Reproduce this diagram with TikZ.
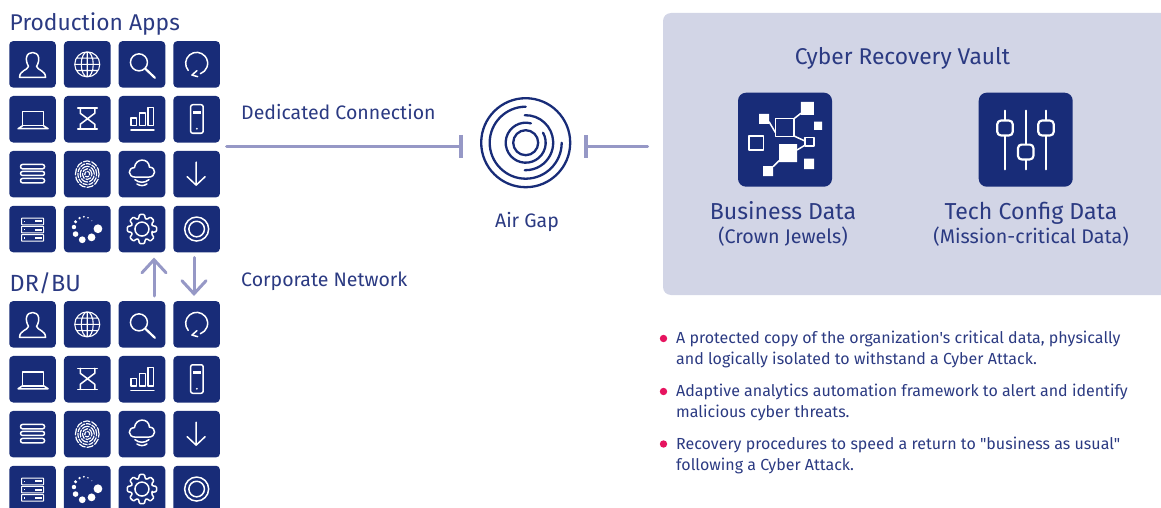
\documentclass[tikz,border=0pt]{standalone}
\usepackage{fontspec}
\setmainfont{Fira Sans}[Ligatures=TeXOff]
\usetikzlibrary{matrix, arrows.meta, calc}
\definecolor{navy}{HTML}{182C78}
\definecolor{ink}{HTML}{2B3A82}
\definecolor{linkblue}{HTML}{9698C6}
\definecolor{panelblue}{HTML}{D2D5E6}
\definecolor{dotpink}{HTML}{E6145F}
\tikzset{
  x=1pt, y=1pt,
  tile/.style={fill=navy, draw=none, rounded corners=4pt, minimum size=46.6pt, inner sep=0pt},
  bigtile/.style={fill=navy, draw=none, rounded corners=8pt, minimum size=94pt, inner sep=0pt},
  ico/.style={draw=white, line width=1.5pt, line join=round, line cap=round},
  icofill/.style={fill=white, draw=none},
  ring/.style={draw=navy, line width=2.3pt, line cap=round},
  link/.style={draw=linkblue, line width=3pt, line cap=round},
  linkend/.style={-{Bar[width=23pt,line width=4pt,line cap=butt]}},
  flow/.style={-{Straight Barb[length=13pt,width=24pt,line cap=round]}, draw=linkblue, line width=3pt, line cap=round},
  label/.style={text=ink, inner sep=0pt, anchor=base west, font=\fontsize{19.5}{21}\selectfont},
  mid/.style={text=ink, inner sep=0pt, anchor=base, font=\fontsize{23.1}{25}\selectfont},
  sub/.style={text=ink, inner sep=0pt, anchor=base, font=\fontsize{19.7}{22}\selectfont},
  note/.style={text=ink, inner sep=0pt, anchor=base west, align=left, font=\fontsize{16}{21}\selectfont},
  dot/.style={circle, fill=dotpink, inner sep=0pt, minimum size=7.4pt},
  pics/user/.style={code={
    \draw[ico] (-13,-13) -- (13,-13) .. controls (13,-6) and (5,-6) .. (4,-2)
      .. controls (6,1) and (6.5,5) .. (6,7) .. controls (5,13.5) and (-5,13.5) .. (-6,7)
      .. controls (-6.5,5) and (-6,1) .. (-4,-2) .. controls (-5,-6) and (-13,-6) .. (-13,-13) -- cycle;
  }},
  pics/globe/.style={code={
    \draw[ico, line width=1.1pt] (0,0) circle (12.5) (0,0) ellipse (6 and 12.5) (0,-12.5) -- (0,12.5)
      (-12.5,0) -- (12.5,0) (-10.8,6.2) -- (10.8,6.2) (-10.8,-6.2) -- (10.8,-6.2);
  }},
  pics/search/.style={code={
    \draw[ico] (-3,2) circle (8.5);
    \draw[ico, line width=2.2pt] (3.5,-4.5) -- (13,-13.5);
  }},
  pics/refresh/.style={code={
    \draw[ico] (0,1) ++(220:11) arc (220:-70:11);
    \draw[ico] (0.3,-6.3) -- (-4.7,-10.7) -- (1,-12.3);
  }},
  pics/laptop/.style={code={
    \draw[ico] (-10,-6.5) -- (-10,7.5) -- (11,7.5) -- (11,-6.5) -- cycle;
    \draw[ico] (-10,-6.5) -- (-14.5,-9.5) -- (15.5,-9.5) -- (11,-6.5);
  }},
  pics/hourglass/.style={code={
    \draw[ico] (-9.5,11) -- (10,11) (-9.5,-10) -- (10,-10);
    \draw[ico] (-7,11) -- (-7,6) -- (7.5,-5) -- (7.5,-10) (7.5,11) -- (7.5,6) -- (-7,-5) -- (-7,-10);
  }},
  pics/bars/.style={code={
    \draw[ico] (-11,-6.5) rectangle (-5.7,1) (-2.7,-6.5) rectangle (3.3,6) (6,-6.5) rectangle (11.7,11.7);
    \draw[ico] (-11,-11) -- (12,-11);
  }},
  pics/tower/.style={code={
    \draw[ico, rounded corners=2pt] (-6,-14) rectangle (6.5,14.5);
    \fill[icofill] (-3.7,5.5) rectangle (4,8.2);
    \fill[icofill] (0.2,-9.5) circle (1);
  }},
  pics/stack/.style={code={
    \draw[ico, rounded corners=2pt] (-12,5.3) rectangle (12,9.7) (-12,-1.3) rectangle (12,2.7) (-12,-8.7) rectangle (12,-4.3);
  }},
  pics/finger/.style={code={
    \foreach \r/\dashon/\dashoff in {2.5/4/1, 4.8/6/1.2, 7/8/1.2, 9.4/5/1, 11.8/7/1.3}
      \draw[ico, line width=1.2pt, line cap=butt, dash pattern=on \dashon pt off \dashoff pt] (0,0) ellipse ({\r} and {\r*1.12});
  }},
  pics/cloud/.style={code={
    \draw[ico] (-6.5,-3) .. controls (-14.5,-3) and (-14.5,6.5) .. (-7.5,6.5)
      .. controls (-6.5,16.5) and (7,16.5) .. (7.5,7) .. controls (14.5,7) and (14.5,-3) .. (6.5,-3) -- cycle;
    \draw[ico] (-7,-5.5) .. controls (-3,-9) and (3,-9) .. (7,-5.5);
    \draw[ico] (-5,-9.8) .. controls (-2,-12) and (2,-12) .. (5,-9.8);
  }},
  pics/downarrow/.style={code={
    \draw[ico] (-0.5,12) -- (-0.5,-11) (-9.5,-2.5) -- (-0.5,-11) (8.5,-2.5) -- (-0.5,-11);
  }},
  pics/servers/.style={code={
    \foreach \y in {7.6,-0.6,-8.8} {
      \draw[ico, line width=1pt, rounded corners=0.5pt] (-11,\y-3.3) rectangle (11,\y+3.3);
      \fill[icofill] (2.3,\y-1) rectangle (9.5,\y+1);
      \fill[icofill] (-8.5,\y-0.7) rectangle (-7.5,\y+0.7);
    }
  }},
  pics/spinner/.style={code={
    \foreach \px/\py/\r in {10.7/0.3/4.4, 4.3/-8.3/3.9, -5/-10.7/3.4, -11.7/-5/2.8, -13.3/2/2.2, -11.7/7.3/1.7, -7.7/11/1.3, -3.3/12.3/1, 0.7/11.3/.8, 4.7/8.3/.5}
      \fill[icofill] (\px,\py) circle (\r);
  }},
  pics/gear/.style={code={
    \draw[ico] (0,0) circle (7);
    \draw[ico, rounded corners=1pt] (-18:10.8) \foreach \a in {0,45,...,315} { -- (\a-18:10.8) -- (\a-10:14.8) -- (\a+10:14.8) -- (\a+18:10.8) } -- cycle;
  }},
  pics/rings/.style={code={
    \draw[ico] (0,0) circle (12) (0,0) circle (7.8);
  }},
}
\begin{document}
\begin{tikzpicture}
  \useasboundingbox (0,0) rectangle (1161,-508);
  \clip (0,0) rectangle (1161,-508);

  \node[label, font=\fontsize{22.8}{24}\selectfont] (prodtitle) at (9.5,-30.5) {Production Apps};
  \node[label, font=\fontsize{23.4}{24}\selectfont] (drtitle) at (9.5,-291.5) {DR/BU};

  \matrix (prod) at (114.6,-146.7) [matrix of nodes, nodes in empty cells, nodes={tile}, row sep=8.3pt, column sep=8.1pt]
  {
    & & & \\
    & & & \\
    & & & \\
    & & & \\
  };
  \matrix (dr) at (114.6,-406.7) [matrix of nodes, nodes in empty cells, nodes={tile}, row sep=8.3pt, column sep=8.1pt]
  {
    & & & \\
    & & & \\
    & & & \\
    & & & \\
  };
  \foreach \grid in {prod,dr} {
    \foreach \icon/\row/\col in {user/1/1, globe/1/2, search/1/3, refresh/1/4,
        laptop/2/1, hourglass/2/2, bars/2/3, tower/2/4,
        stack/3/1, finger/3/2, cloud/3/3, downarrow/3/4,
        servers/4/1, spinner/4/2, gear/4/3, rings/4/4}
      \pic at (\grid-\row-\col) {\icon};
  }

  \coordinate (uptail) at (154,-296);
  \coordinate (uphead) at (154,-257.5);
  \coordinate (downtail) at (194,-257.5);
  \coordinate (downhead) at (194,-296);
  \draw[flow] (uptail) -- (uphead);
  \draw[flow] (downtail) -- (downhead);

  \node[label] (dedicated) at (241,-120) {Dedicated Connection};
  \node[label] (corporate) at (241,-286) {Corporate Network};

  \coordinate (gapcentre) at (525.7,-142.7);
  \draw[ring] (gapcentre) circle (44.5);
  \draw[ring] (gapcentre) ++(90:36) arc (90:360:36);
  \draw[ring] (gapcentre) ++(92:27.5) arc (92:-92:27.5);
  \draw[ring] (gapcentre) ++(75:20) arc (75:390:20);
  \draw[ring] (gapcentre) circle (12.5);
  \node[label, anchor=base] (airgap) at (527,-227.5) {Air Gap};

  \coordinate (linkleft) at (226.5,-146.3);
  \coordinate (barleft) at (463,-146.3);
  \coordinate (linkright) at (647.5,-146.3);
  \coordinate (barright) at (584,-146.3);
  \draw[link, linkend] (linkleft) -- (barleft);
  \draw[link, linkend] (linkright) -- (barright);

  \fill[panelblue, rounded corners=8pt] (663,-13) rectangle (1180,-295);
  \node[label, anchor=base, font=\fontsize{22.8}{24}\selectfont] (vault) at (902.5,-65) {Cyber Recovery Vault};

  \node[bigtile] (business) at (785,-139.7) {};
  \begin{scope}[shift={(business.center)}]
    \draw[ico, line width=1.5pt, line cap=butt] (-9.5,3) rectangle (9,21.3) (-36,-10.3) rectangle (-21.5,3.7) (20,-6.3) rectangle (29,2.3);
    \fill[icofill] (15.8,24.7) rectangle (28.8,37.7) (-26,15.7) rectangle (-16,25.7) (29,9.7) rectangle (37,18)
      (-6,-22.3) rectangle (12,-4.3) (-22,-36.3) rectangle (-12,-26.3) (19,-29.3) rectangle (29,-19);
    \draw[ico, line width=1.5pt, line cap=butt] (-16,18) -- (-9.5,7) (9,21) -- (16,26.5) (9,3.7) -- (20,-1.3) (12,-10.3) -- (20,-5.5) (-12,-27) -- (-6,-21);
  \end{scope}

  \node[bigtile] (techconfig) at (1025.7,-139.7) {};
  \begin{scope}[shift={(techconfig.center)}]
    \draw[ico, line width=2.2pt] (-20.7,29) -- (-20.7,-29.7) (0,29) -- (0,-29.7) (20.3,29) -- (20.3,-29.7);
    \foreach \kx/\ky in {-20.7/11.7, 0/-12.3, 20.3/11.7}
      \draw[ico, line width=2.2pt, fill=navy, rounded corners=3.5pt] (\kx-7.7,\ky-7.4) rectangle (\kx+7.7,\ky+7.4);
  \end{scope}

  \node[mid] (businesstitle) at (783,-219) {Business Data};
  \node[sub] (businesssub) at (783,-243) {(Crown Jewels)};
  \node[mid] (techtitle) at (1031,-219) {Tech Config Data};
  \node[sub] (techsub) at (1031,-243) {(Mission-critical Data)};

  \node[dot] (dota) at (663.5,-338.5) {};
  \node[dot] (dotb) at (663.5,-391.5) {};
  \node[dot] (dotc) at (663.5,-444) {};
  \node[note] (notea) at (676,-364) {A protected copy of the organization's critical data, physically\\and logically isolated to withstand a Cyber Attack.};
  \node[note] (noteb) at (676,-417) {Adaptive analytics automation framework to alert and identify\\malicious cyber threats.};
  \node[note] (notec) at (676,-470) {Recovery procedures to speed a return to "business as usual"\\following a Cyber Attack.};
\end{tikzpicture}
\end{document}
